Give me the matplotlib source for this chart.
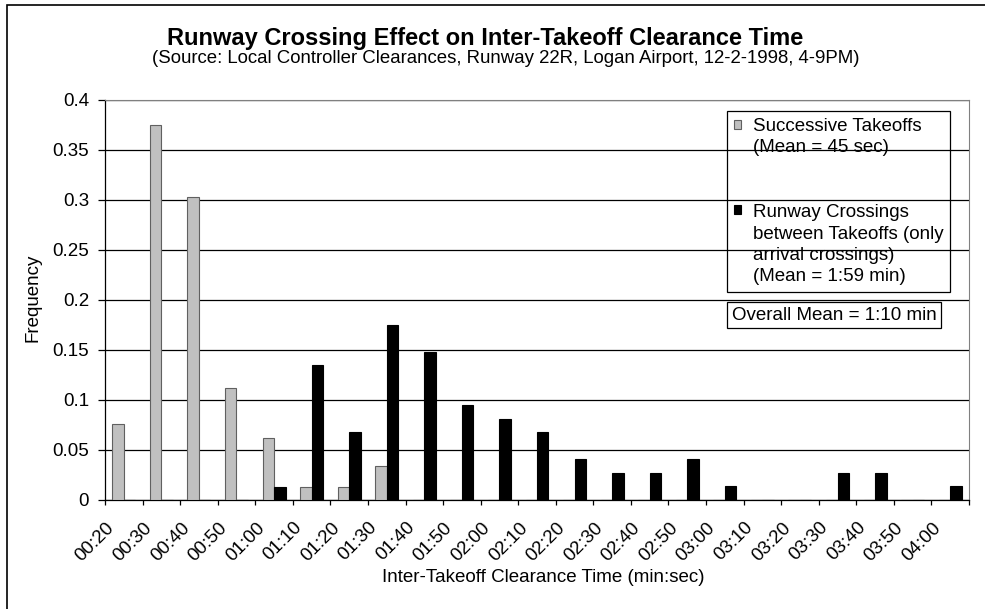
import numpy as np
import matplotlib.pyplot as plt
from matplotlib.transforms import ScaledTranslation
from matplotlib.patches import Rectangle
from matplotlib.legend_handler import HandlerPatch

# categories (min:sec) and frequencies
categorias = ["00:20", "00:30", "00:40", "00:50", "01:00", "01:10", "01:20", "01:30",
              "01:40", "01:50", "02:00", "02:10", "02:20", "02:30", "02:40", "02:50",
              "03:00", "03:10", "03:20", "03:30", "03:40", "03:50", "04:00"]
sucessivas = [0.076, 0.375, 0.303, 0.112, 0.062, 0.013, 0.013, 0.034,
              0, 0, 0, 0, 0, 0, 0, 0, 0, 0, 0, 0, 0, 0, 0]
cruzamentos = [0, 0, 0, 0, 0.013, 0.135, 0.068, 0.175,
               0.148, 0.095, 0.081, 0.068, 0.041, 0.027, 0.027, 0.041,
               0.014, 0, 0, 0.027, 0.027, 0, 0.014]
rotulo_suc = "Successive Takeoffs\n(Mean = 45 sec)"
rotulo_cruz = "Runway Crossings\nbetween Takeoffs (only\narrival crossings)\n(Mean = 1:59 min)"

plt.rcParams["font.family"] = ["Liberation Sans", "DejaVu Sans"]
FS = 13.5
ESPACO = 1.32  # line spacing inside the legend

W, H = 985, 609
fig = plt.figure(figsize=(W / 100, H / 100), dpi=100)
ax = fig.add_axes([105 / W, 1 - 500 / H, 864 / W, 400 / H])

x = np.arange(len(categorias))
largura = 0.306
b1 = ax.bar(x - largura, sucessivas, width=largura, align="edge",
            color="#c0c0c0", edgecolor="#606060", linewidth=0.8, zorder=3)
b2 = ax.bar(x, cruzamentos, width=largura, align="edge",
            color="black", edgecolor="black", linewidth=0.8, zorder=3)

ax.set_xlim(-0.5, len(categorias) - 0.5)
ax.set_ylim(0, 0.4)
ax.set_yticks(np.arange(0, 0.401, 0.05))
ax.set_yticklabels(["0", "0.05", "0.1", "0.15", "0.2", "0.25", "0.3", "0.35", "0.4"])
ax.yaxis.grid(True, color="black", linewidth=0.9, zorder=0)
ax.set_axisbelow(True)

# ticks at category boundaries, labels at centres
ax.set_xticks(np.arange(-0.5, len(categorias), 1.0))
ax.set_xticklabels([])
ax.set_xticks(x, categorias, minor=True)
ax.tick_params(axis="x", which="major", direction="out", length=3.6, width=0.9)
ax.tick_params(axis="x", which="minor", length=0, pad=0, labelsize=FS)
ax.tick_params(axis="y", direction="out", length=5, width=0.9, labelsize=FS, pad=6.5)
desloc = ScaledTranslation(-12 / 100, -25 / 100, fig.dpi_scale_trans)
for rotulo in ax.get_xticklabels(minor=True):
    rotulo.set_rotation(45)
    rotulo.set_ha("right")
    rotulo.set_va("center")
    rotulo.set_rotation_mode("anchor")
    rotulo.set_transform(rotulo.get_transform() + desloc)

for lado in ["top", "right"]:
    ax.spines[lado].set_color("#808080")
ax.spines["left"].set_linewidth(0.9)
ax.spines["bottom"].set_linewidth(0.9)

fig.text(543 / W, 1 - 578 / H, "Inter-Takeoff Clearance Time (min:sec)",
         fontsize=FS, ha="center", va="center")
fig.text(33 / W, 1 - 298 / H, "Frequency", fontsize=FS, rotation=90,
         ha="center", va="center")

fig.text(485 / W, 1 - 45 / H, "Runway Crossing Effect on Inter-Takeoff Clearance Time",
         fontsize=17, fontweight="bold", ha="center", va="baseline")
fig.text(506 / W, 1 - 63 / H,
         "(Source: Local Controller Clearances, Runway 22R, Logan Airport, 12-2-1998, 4-9PM)",
         fontsize=13.4, ha="center", va="baseline")


# legend marker sits on the first line of a multi-line label
def marcador_topo(n_linhas):
    def f(legend, orig_handle, xdescent, ydescent, width, height, fontsize):
        sobe = (n_linhas - 1) / 2 * ESPACO * 0.94 * fontsize
        return Rectangle((-xdescent, -ydescent + sobe), width, height)
    return HandlerPatch(patch_func=f)


h1, h2 = b1.patches[0], b2.patches[0]
leg = ax.legend([h1, h2], [rotulo_suc, rotulo_cruz],
                handler_map={h1: marcador_topo(2), h2: marcador_topo(4)},
                loc="upper left", bbox_to_anchor=(727 / W, 1 - 111 / H),
                bbox_transform=fig.transFigure, borderaxespad=0, fontsize=FS,
                frameon=True, fancybox=False, edgecolor="black", framealpha=1,
                labelspacing=2.6, handlelength=0.37, handleheight=0.37,
                handletextpad=0.65, borderpad=0.35)
leg.get_frame().set_facecolor("none")
leg.get_frame().set_linewidth(0.9)
for t in leg.get_texts():
    t.set_linespacing(ESPACO)

fig.text(732 / W, 1 - 315 / H, "Overall Mean = 1:10 min", fontsize=FS,
         ha="left", va="center",
         bbox=dict(boxstyle="square,pad=0.25", fc="white", ec="black", lw=0.9))

# outer chart border
fig.patches.append(Rectangle((7 / W, -0.1), 1.2, 1 - 5 / H + 0.1, transform=fig.transFigure,
                             fill=False, edgecolor="black", linewidth=1.2))

fig.savefig("out.png", dpi=100)
